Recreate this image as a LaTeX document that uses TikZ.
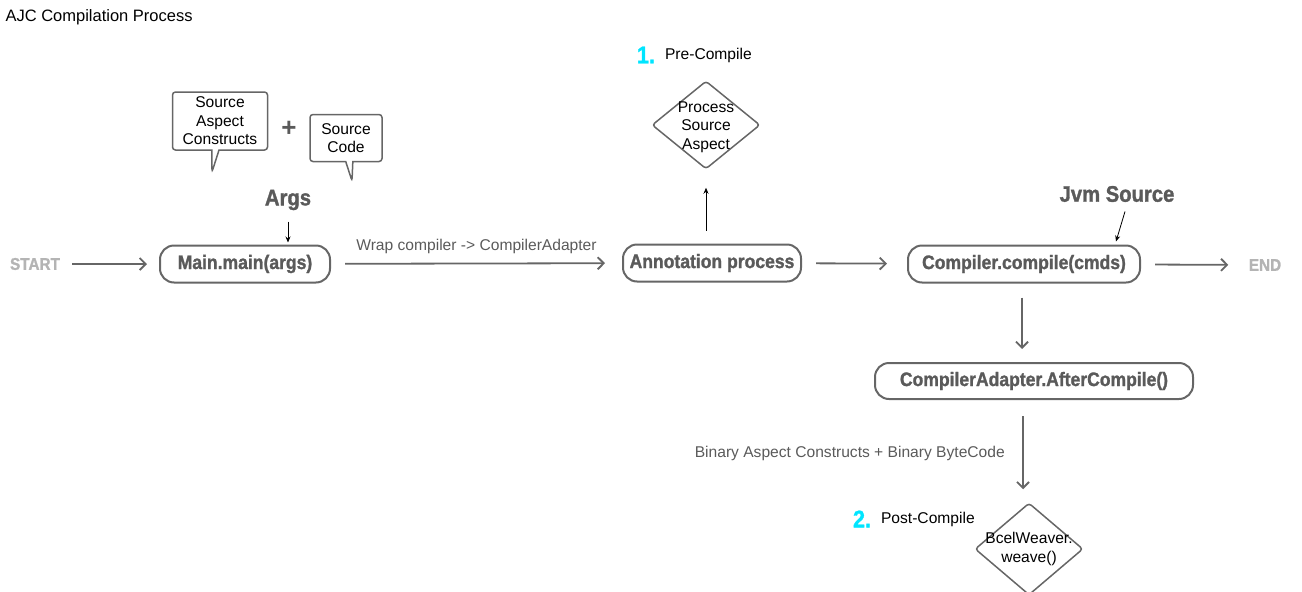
\documentclass[tikz,border=0pt]{standalone}
\usepackage{fontspec}
\setmainfont{Liberation Sans}
\newfontfamily\condfont[UprightFont={* Bold},FakeStretch=0.9,FakeBold=1.3]{Liberation Sans}
\usetikzlibrary{shapes,shapes.geometric,shapes.callouts,positioning,arrows.meta,calc}

\definecolor{linegray}{HTML}{666666}
\definecolor{textgray}{HTML}{5A5A5A}
\definecolor{endgray}{HTML}{B4B4B4}
\definecolor{stepcyan}{HTML}{00E5FF}

\begin{document}
\begin{tikzpicture}[x=1pt,y=-1pt,
    box/.style={draw=linegray,line width=2pt,rounded corners=14pt,minimum height=37pt,
      text=textgray,font=\condfont\fontsize{19.5}{21}\selectfont},
    cond/.style={text=textgray,font=\condfont\fontsize{22.5}{24}\selectfont},
    plain/.style={font=\fontsize{15.6}{18.5}\selectfont},
    check/.style={shape=diamond,draw=linegray,line width=1.5pt,rounded corners=3pt,
      minimum width=108pt,minimum height=88pt,inner sep=0pt},
    bubble/.style={rectangle callout,draw=linegray,line width=1.5pt,rounded corners=3pt,
      align=center,inner sep=0pt,font=\fontsize{15.6}{18.5}\selectfont},
    flow/.style={draw=linegray,line width=1.8pt,-{Straight Barb[length=6pt,width=12pt]}},
    hint/.style={draw=black,line width=0.8pt,-{Stealth[length=6pt,width=5pt]}},
    num/.style={text=stepcyan,font=\condfont\fontsize{24}{24}\selectfont}]
    \useasboundingbox (0,0) rectangle (1302,592);

    % title
    \node[plain,font=\fontsize{16.5}{18}\selectfont,anchor=west] (title) at (2,17) {AJC Compilation Process};

    % main row
    \node[cond,text=endgray,font=\condfont\fontsize{17}{20}\selectfont] (start) at (35,264) {START};
    \node[box,minimum width=170pt] (main) at (245,264) {Main.main(args)};
    \node[box,minimum width=178pt] (ann) at (712,263) {Annotation process};
    \node[box,minimum width=232pt] (comp) at (1024,264) {Compiler.compile(cmds)};
    \node[cond,text=endgray,font=\condfont\fontsize{17}{20}\selectfont] (end) at (1265,265) {END};

    \draw[flow,shorten <=9pt,shorten >=12pt] (start) -- (main);
    \draw[flow,shorten <=14pt,shorten >=17pt] (main) -- (ann)
      node[midway,above=6pt,plain,text=textgray] (wrap) {Wrap compiler -> CompilerAdapter};
    \draw[flow,shorten <=14pt,shorten >=20pt] (ann) -- (comp);
    \draw[flow,shorten <=14pt,shorten >=17pt] (comp) -- (end);

    % args
    \node[bubble,minimum width=95pt,minimum height=58pt,callout absolute pointer={(212,172)}]
      (sac) at (220,121) {Source\\Aspect\\Constructs};
    \node[text=textgray,font=\bfseries\fontsize{26}{26}\selectfont] (plus) at (289,129) {+};
    \node[bubble,minimum width=72pt,minimum height=47pt,callout absolute pointer={(352,181)}]
      (src) at (346,138) {Source\\Code};
    \node[cond] (args) at (288,200) {Args};
    \draw[hint,shorten <=8pt,shorten >=2pt] (args.south) -- (args.south |- main.north);

    % pre-compile
    \node[num] (one) at (646,55) {1.};
    \node[plain,right=3pt of one] (pre) {Pre-Compile};
    \node[check,label={[plain,align=center,yshift=-2pt]center:{Process\\Source\\Aspect}}] (psa) at (706,125) {};
    \draw[hint,shorten <=13pt,shorten >=18pt] (ann.north -| psa.south) -- (psa.south);

    % jvm source
    \node[cond] (jvm) at (1117,194) {Jvm Source};
    \coordinate (jvmin) at ($(comp.north east)+(-25,-3)$);
    \draw[hint] ($(jvm.south)+(8,6)$) -- (jvmin);

    % post-compile
    \node[box,minimum width=318pt,minimum height=36pt] (ada) at (1034,381) {CompilerAdapter.AfterCompile()};
    \draw[flow,shorten <=14pt,shorten >=13pt] ($(comp.south)+(-2,0)$) -- ($(comp.south |- ada.north)+(-2,0)$);
    \node[check,minimum height=92pt,label={[plain,align=center]center:{BcelWeaver.\\weave()}}] (weave) at (1029,549) {};
    \draw[flow,shorten <=16pt,shorten >=13pt] ($(ada.south -| weave.north)+(-6,0)$) -- ($(weave.north)+(-6,0)$)
      node[midway,left=14pt,yshift=-2pt,plain,text=textgray] (bin) {Binary Aspect Constructs + Binary ByteCode};
    \node[num] (two) at (862,519) {2.};
    \node[plain,right=3pt of two] (post) {Post-Compile};
  \end{tikzpicture}
\end{document}
